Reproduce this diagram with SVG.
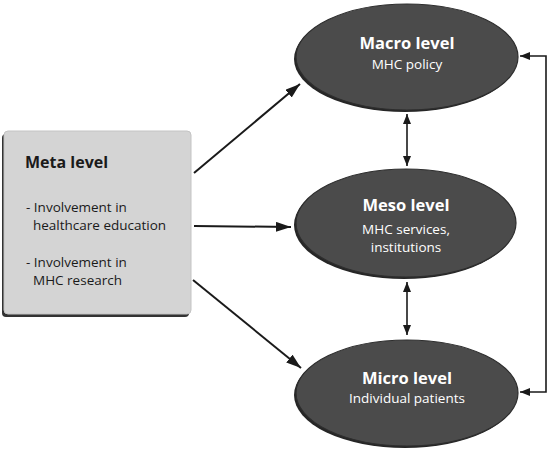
<svg xmlns="http://www.w3.org/2000/svg" width="550" height="450" viewBox="0 0 550 450">
<defs>
<style>
.ell{fill:#4b4b4b;stroke:#2e2e2e;stroke-width:1.2}
.shd{fill:#262626}
.t1{font-family:"Open Sans","Noto Sans",sans-serif;font-weight:bold;font-size:16.5px;fill:#fff;text-anchor:middle}
.t2{font-family:"Open Sans","Noto Sans",sans-serif;font-size:13.5px;fill:#fff;text-anchor:middle}
.m1{font-family:"Open Sans","Noto Sans",sans-serif;font-weight:bold;font-size:16px;fill:#1a1a1a}
.m2{font-family:"Open Sans","Noto Sans",sans-serif;font-size:13.5px;fill:#1a1a1a}
.ln{stroke:#1a1a1a;stroke-width:2;fill:none}
.ln2{stroke:#1a1a1a;stroke-width:1.6;fill:none}
</style>
<marker id="ah" viewBox="0 0 15 10" refX="15" refY="5" markerWidth="15" markerHeight="10" markerUnits="userSpaceOnUse" orient="auto">
<path d="M0,0 L15,5 L0,10 Z" fill="#1a1a1a"/>
</marker>
<marker id="as" viewBox="0 0 10 8" refX="10" refY="4" markerWidth="10" markerHeight="8" markerUnits="userSpaceOnUse" orient="auto-start-reverse">
<path d="M0,0 L10,4 L0,8 Z" fill="#1a1a1a"/>
</marker>
</defs>
<rect width="550" height="450" fill="#fff"/>
<g id="connectors">
<line class="ln" x1="194" y1="173" x2="300" y2="84" marker-end="url(#ah)"/>
<line class="ln" x1="194" y1="226" x2="291" y2="227" marker-end="url(#ah)"/>
<line class="ln" x1="193" y1="280" x2="301" y2="368" marker-end="url(#ah)"/>
<line class="ln2" x1="407" y1="114" x2="407" y2="166" marker-start="url(#as)" marker-end="url(#as)"/>
<line class="ln2" x1="407" y1="282" x2="407" y2="335" marker-start="url(#as)" marker-end="url(#as)"/>
<polyline class="ln2" points="520,56 546,56 546,392 520,392" marker-start="url(#as)" marker-end="url(#as)"/>
</g>
<g id="meta">
<rect x="2" y="134" width="187" height="183" rx="4" fill="#333"/>
<rect x="4" y="131" width="187" height="183" rx="4" fill="#d4d4d4" stroke="#c4c4c4" stroke-width="1"/>
<text class="m1" x="25" y="168">Meta level</text>
<text class="m2" x="26" y="212">- Involvement in</text>
<text class="m2" x="33" y="230">healthcare education</text>
<text class="m2" x="26" y="267">- Involvement in</text>
<text class="m2" x="33" y="285">MHC research</text>
</g>
<g id="macro">
<ellipse class="shd" cx="405" cy="59" rx="111" ry="53"/>
<ellipse class="ell" cx="407" cy="57" rx="111" ry="53"/>
<text class="t1" x="407" y="49">Macro level</text>
<text class="t2" x="407" y="69">MHC policy</text>
</g>
<g id="meso">
<ellipse class="shd" cx="404" cy="225" rx="110" ry="54"/>
<ellipse class="ell" cx="406" cy="223" rx="110" ry="54"/>
<text class="t1" x="406" y="211">Meso level</text>
<text class="t2" x="406" y="234">MHC services,</text>
<text class="t2" x="406" y="252">institutions</text>
</g>
<g id="micro">
<ellipse class="shd" cx="405" cy="395" rx="111" ry="53"/>
<ellipse class="ell" cx="407" cy="393" rx="111" ry="53"/>
<text class="t1" x="407" y="384">Micro level</text>
<text class="t2" x="407" y="403">Individual patients</text>
</g>
</svg>
